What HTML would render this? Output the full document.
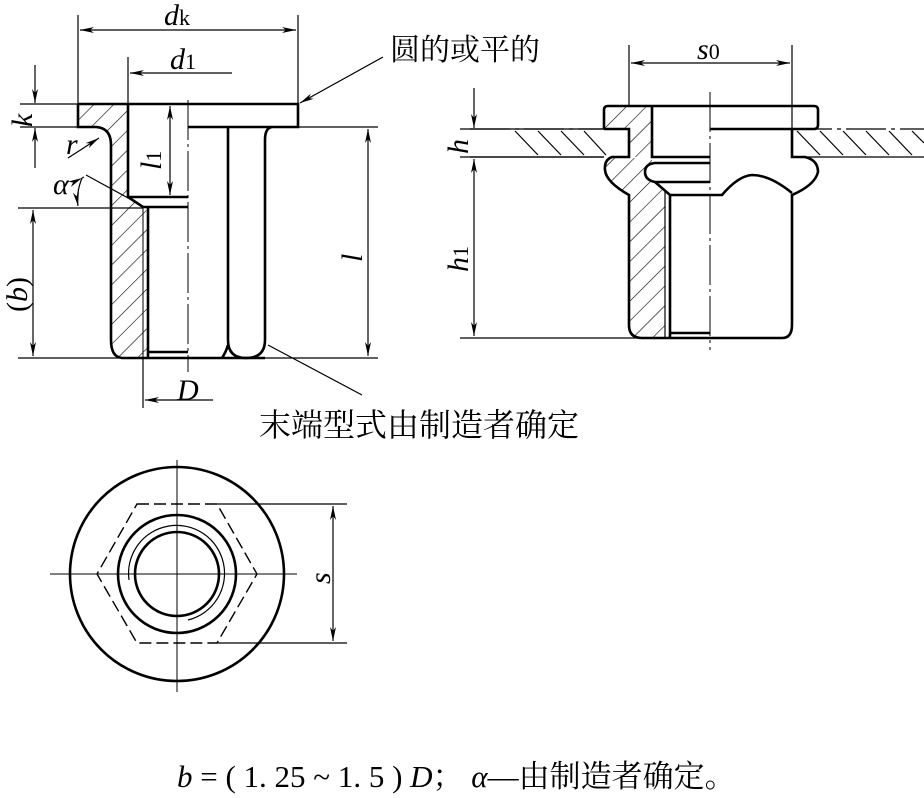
<!DOCTYPE html>
<html><head><meta charset="utf-8"><style>
html,body{margin:0;padding:0;background:#fff;}
svg{display:block;}
.t{font-family:"Liberation Serif",serif;font-style:italic;}
.c{font-family:"Liberation Serif","Noto Serif CJK SC",serif;}
</style></head><body>
<svg width="924" height="798" viewBox="0 0 924 798" xmlns="http://www.w3.org/2000/svg">
<defs>
<pattern id="h1" patternUnits="userSpaceOnUse" width="14" height="14" patternTransform="rotate(45)">
<line x1="0" y1="0" x2="0" y2="14" stroke="#000" stroke-width="1.2"/></pattern>
<marker id="a" markerWidth="14" markerHeight="6" refX="14" refY="3" orient="auto" markerUnits="userSpaceOnUse">
<path d="M0,0 L14,3 L0,6 L4,3 Z" fill="#000"/></marker>
</defs>
<g fill="none" stroke="#000" stroke-width="1.2">
<line x1="78" y1="15" x2="78" y2="104"/>
<line x1="298" y1="15" x2="298" y2="104"/>
<line x1="188" y1="30" x2="80" y2="30" marker-end="url(#a)"/>
<line x1="188" y1="30" x2="296" y2="30" marker-end="url(#a)"/>
<line x1="128" y1="57" x2="128" y2="104"/>
<line x1="232" y1="73" x2="130" y2="73" marker-end="url(#a)"/>
<line x1="20" y1="104" x2="78" y2="104"/>
<line x1="20" y1="127" x2="90" y2="127"/>
<line x1="35" y1="65" x2="35" y2="103" marker-end="url(#a)"/>
<line x1="35" y1="168" x2="35" y2="128" marker-end="url(#a)"/>
<line x1="265" y1="127" x2="378" y2="127"/>
<line x1="18" y1="358" x2="378" y2="358"/>
<line x1="368" y1="243" x2="368" y2="129" marker-end="url(#a)"/>
<line x1="368" y1="243" x2="368" y2="356" marker-end="url(#a)"/>
<line x1="18" y1="208" x2="143" y2="208"/>
<line x1="33" y1="283" x2="33" y2="210" marker-end="url(#a)"/>
<line x1="33" y1="283" x2="33" y2="356" marker-end="url(#a)"/>
<line x1="170" y1="150" x2="170" y2="106" marker-end="url(#a)"/>
<line x1="170" y1="150" x2="170" y2="195" marker-end="url(#a)"/>
<line x1="143" y1="358" x2="143" y2="408"/>
<line x1="213" y1="400" x2="145" y2="400" marker-end="url(#a)"/>
<line x1="86" y1="175" x2="130" y2="199"/>
<path d="M82,178 Q76,193 78,206" marker-end="url(#a)"/>
<path d="M82,178 L84,177" marker-start="url(#a)"/>
<line x1="68" y1="158" x2="99" y2="138" marker-end="url(#a)"/>
<line x1="383" y1="57" x2="300" y2="103" marker-end="url(#a)"/>
<line x1="268" y1="345" x2="362" y2="395"/>
<line x1="188" y1="100" x2="188" y2="372" stroke-dasharray="40,4,3,4" stroke-width="1"/>
</g>
<path d="M79,105 L127,105 L127,197 L143,207 L147,211 L147,356 L142,358 L122,358 Q111,356 111,340 L111,145 Q111,128 96,128 L79,128 Z" fill="url(#h1)" stroke="none"/>
<g fill="none" stroke="#000" stroke-width="2.6">
<path d="M78,104 L298,104 L298,127 L188,127"/>
<path d="M78,104 L78,127 L96,127 Q111,128 111,145 L111,340 Q111,357 122,358 L265,358"/>
<path d="M128,104 L128,197 L188,197"/>
<path d="M128,197 L143,207 L188,207"/>
<line x1="148" y1="207" x2="148" y2="358"/>
<line x1="148" y1="352" x2="188" y2="352"/>
<path d="M228,127 L228,340 Q228,358 246,358 Q265,358 265,340 L265,140 Q265,128 272,127"/>
<path d="M222,358 Q226,352 228,345"/>
</g>
<line x1="143" y1="207" x2="143" y2="358" stroke="#000" stroke-width="1"/>
<path d="M470,157 L604,157 M792,157 L924,157" stroke="#000" stroke-width="1.2"/>
<path d="M470,129 L604,129 M792,129 L924,129" stroke="#000" stroke-width="1.2" stroke-dasharray="40,5,4,5"/>
<g stroke="#000" stroke-width="1.2">
<line x1="515" y1="131" x2="538" y2="155"/><line x1="538" y1="131" x2="561" y2="155"/>
<line x1="561" y1="131" x2="584" y2="155"/><line x1="584" y1="131" x2="606" y2="155"/>
<line x1="797" y1="131" x2="820" y2="155"/><line x1="820" y1="131" x2="843" y2="155"/>
<line x1="843" y1="131" x2="866" y2="155"/><line x1="866" y1="131" x2="889" y2="155"/>
<line x1="889" y1="131" x2="912" y2="155"/><line x1="912" y1="131" x2="924" y2="143"/>
</g>
<path d="M604,107 L652,107 L652,157 L629,157 L629,129 L604,129 Z" fill="url(#h1)"/>
<path d="M630,158 L652,158 L652,165 Q645,165 645,172 Q645,182 660,185 L665,195 L665,337 L640,337 Q629,335 629,325 L629,195 Q612,185 606,175 Q604,162 612,158 Z" fill="url(#h1)"/>
<g fill="none" stroke="#000" stroke-width="1.2">
<line x1="629" y1="45" x2="629" y2="106"/>
<line x1="792" y1="45" x2="792" y2="155"/>
<line x1="710" y1="63" x2="631" y2="63" marker-end="url(#a)"/>
<line x1="710" y1="63" x2="790" y2="63" marker-end="url(#a)"/>
<line x1="460" y1="129" x2="604" y2="129"/>
<line x1="460" y1="157" x2="604" y2="157"/>
<line x1="474" y1="88" x2="474" y2="128" marker-end="url(#a)"/>
<line x1="474" y1="247" x2="474" y2="159" marker-end="url(#a)"/>
<line x1="474" y1="247" x2="474" y2="336" marker-end="url(#a)"/>
<line x1="460" y1="338" x2="640" y2="338"/>
<line x1="710" y1="92" x2="710" y2="350" stroke-dasharray="40,4,3,4" stroke-width="1"/>
<line x1="665" y1="190" x2="665" y2="338"/>
</g>
<g fill="none" stroke="#000" stroke-width="2.6">
<path d="M604,129 L604,110 Q604,106 608,106 L814,106 Q818,106 818,110 L818,125 Q818,129 814,129 L710,129"/>
<path d="M604,129 L629,129 L629,157 L612,157 Q604,160 605,170 Q606,182 629,195 L629,325 Q629,338 642,338 L782,338 Q792,338 792,325 L792,195 Q815,185 818,172 Q818,160 805,157 L792,157 L792,129"/>
<path d="M652,106 L652,157 L710,157"/>
<path d="M710,163 L655,163 Q645,164 645,172 Q645,180 655,182 L710,182"/>
<path d="M655,182 L670,195 L710,195"/>
<path d="M710,195 L722,195 Q738,176 752,175 Q770,175 792,193"/>
<line x1="670" y1="195" x2="670" y2="338"/>
<line x1="670" y1="333" x2="710" y2="333"/>
</g>
<g fill="none" stroke="#000">
<line x1="50" y1="574" x2="297" y2="574" stroke-width="1"/>
<line x1="177" y1="460" x2="177" y2="692" stroke-width="1"/>
<circle cx="177" cy="574" r="107" stroke-width="2.6"/>
<circle cx="177" cy="574" r="59" stroke-width="2.6"/>
<circle cx="177" cy="574" r="42" stroke-width="2.6"/>
<path d="M129,580 A48,48 0 1 1 188,620" stroke-width="1.2"/>
<path d="M137,504 L217,504 L257,574 L217,643 L137,643 L97,574 Z" stroke-width="1.4" stroke-dasharray="12,5"/>
<line x1="217" y1="504" x2="347" y2="504" stroke-width="1.2"/>
<line x1="217" y1="643" x2="347" y2="643" stroke-width="1.2"/>
<line x1="333" y1="574" x2="333" y2="506" stroke-width="1.2" marker-end="url(#a)"/>
<line x1="333" y1="574" x2="333" y2="641" stroke-width="1.2" marker-end="url(#a)"/>
</g>
<g class="t" font-size="30" fill="#000">
<text x="164" y="25">d<tspan font-style="normal" font-size="22">k</tspan></text>
<text x="170" y="69">d<tspan font-style="normal" font-size="22">1</tspan></text>
<text x="0" y="0" transform="translate(32,127) rotate(-90)">k</text>
<text x="66" y="154">r</text>
<text x="53" y="194">α</text>
<text x="0" y="0" transform="translate(161,170) rotate(-90)">l<tspan font-style="normal" font-size="22">1</tspan></text>
<text x="0" y="0" transform="translate(362,262) rotate(-90)">l</text>
<text x="0" y="0" transform="translate(27,312) rotate(-90)"><tspan font-style="normal">(</tspan>b<tspan font-style="normal">)</tspan></text>
<text x="177" y="400">D</text>
<text x="697" y="59">s<tspan font-style="normal" font-size="22">0</tspan></text>
<text x="0" y="0" transform="translate(468,154) rotate(-90)">h</text>
<text x="0" y="0" transform="translate(468,272) rotate(-90)">h<tspan font-style="normal" font-size="22">1</tspan></text>
<text x="0" y="0" transform="translate(330,584) rotate(-90)">s</text>
</g>
<text class="c" x="390" y="60" font-size="30" fill="#000">圆的或平的</text>
<text class="c" x="259" y="436" font-size="32" fill="#000">末端型式由制造者确定</text>
<text class="c" x="177" y="787" font-size="31" fill="#000"><tspan font-style="italic">b</tspan> = ( 1. 25 ~ 1. 5 ) <tspan font-style="italic">D</tspan>； <tspan font-style="italic">α</tspan>—由制造者确定。</text>
</svg>
</body></html>
